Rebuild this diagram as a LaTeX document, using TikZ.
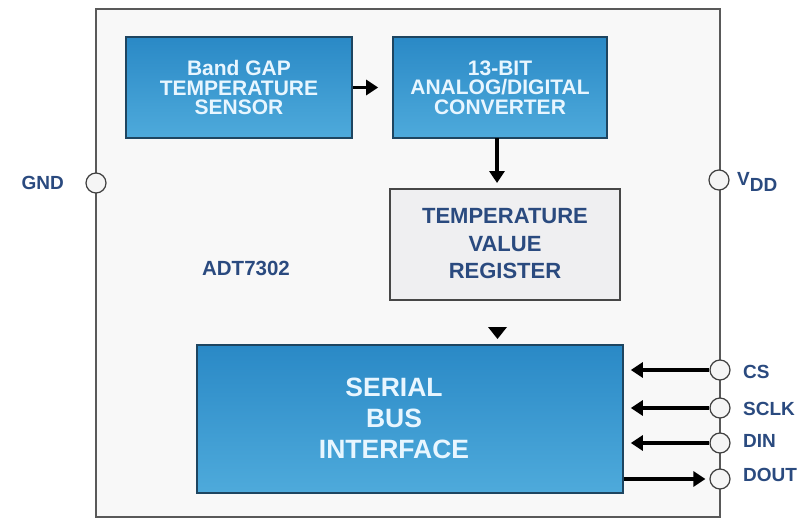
\documentclass[tikz,border=0pt]{standalone}
\usepackage{fontspec}
\setmainfont{Liberation Sans}
\usetikzlibrary{arrows.meta}
\definecolor{lblue}{HTML}{2A4A7F}
\definecolor{btop}{HTML}{2A89C6}
\definecolor{bbot}{HTML}{4EAADB}
\definecolor{bedge}{HTML}{1E4560}
\definecolor{btext}{HTML}{E8F6FF}
\definecolor{chipfill}{HTML}{F8F8F8}
\definecolor{regfill}{HTML}{EFEFF1}
\tikzset{
  bluebox/.style={draw=bedge, line width=1.6pt, top color=btop, bottom color=bbot,
    text=btext, align=center, inner sep=0pt, font=\bfseries\fontsize{21}{19.5}\selectfont},
  regbox/.style={draw=black!72, line width=2pt, fill=regfill, text=lblue,
    align=center, inner sep=0pt, font=\bfseries\fontsize{22}{27.5}\selectfont},
  pin/.style={circle, draw=black!75, fill=white!96!black, line width=1.2pt,
    minimum size=20pt, inner sep=0pt},
  pinlabel/.style={text=lblue, font=\bfseries\fontsize{19}{21}\selectfont, inner sep=0pt},
  arr/.style={line width=3.5pt, -{Triangle[length=12pt,width=15pt]}}
}
\begin{document}
\begin{tikzpicture}[x=1pt,y=-1pt]
\useasboundingbox[fill=white] (0,0) rectangle (809,519);
% chip outline
\draw[black!65, line width=1.5pt, fill=chipfill] (96,9) rectangle (720,517);
% blocks
\node[bluebox, minimum width=226pt, minimum height=101pt] (bg) at (239,87.5)
  {Band GAP\\TEMPERATURE\\SENSOR};
\node[bluebox, minimum width=214pt, minimum height=101pt] (adc) at (500,87.5)
  {13-BIT\\ANALOG/DIGITAL\\CONVERTER};
\node[regbox, minimum width=230pt, minimum height=111pt] (reg) at (505,244)
  {TEMPERATURE\\VALUE\\REGISTER};
\node[bluebox, minimum width=426pt, minimum height=148pt] (ser) at (410,419) {};
\node[text=btext, align=center, inner sep=0pt,
  font=\bfseries\fontsize{26.5}{31}\selectfont] (sertext) at (394,418)
  {SERIAL\\BUS\\INTERFACE};
% internal arrows
\draw[arr, shorten >=14pt] (bg.east) -- (adc.west);
\coordinate (adcout) at (497,138);
\coordinate (regin) at (497,188);
\draw[arr, shorten >=5pt] (adcout) -- (regin);
\coordinate (tl) at (488,327);
\coordinate (tr) at (507,327);
\coordinate (tb) at (497.5,339);
\fill[black] (tl) -- (tr) -- (tb) -- cycle;
% pins
\node[pin] (gnd) at (96,183) {};
\node[pin] (vdd) at (719,180) {};
\node[pin] (cs) at (720,370) {};
\node[pin] (sclk) at (720,408) {};
\node[pin] (din) at (720,443) {};
\node[pin] (dout) at (720,479) {};
% pin arrows
\draw[arr, shorten >=7pt] (cs.west) -- (cs.west -| ser.east);
\draw[arr, shorten >=7pt] (sclk.west) -- (sclk.west -| ser.east);
\draw[arr, shorten >=7pt] (din.west) -- (din.west -| ser.east);
\draw[arr, shorten >=4pt] (dout.west -| ser.east) -- (dout.west);
% labels
\node[pinlabel, anchor=east] (gndl) at (64,183) {GND};
\node[pinlabel, anchor=west] (vddl) at (737,182) {V\raisebox{-6pt}{DD}};
\node[pinlabel, anchor=west] (csl) at (743,372) {CS};
\node[pinlabel, anchor=west] (sclkl) at (743,409) {SCLK};
\node[pinlabel, anchor=west] (dinl) at (743,441) {DIN};
\node[pinlabel, anchor=west] (doutl) at (743,475) {DOUT};
\node[pinlabel, font=\bfseries\fontsize{20.5}{22}\selectfont] (chip) at (246,268) {ADT7302};
\end{tikzpicture}
\end{document}
